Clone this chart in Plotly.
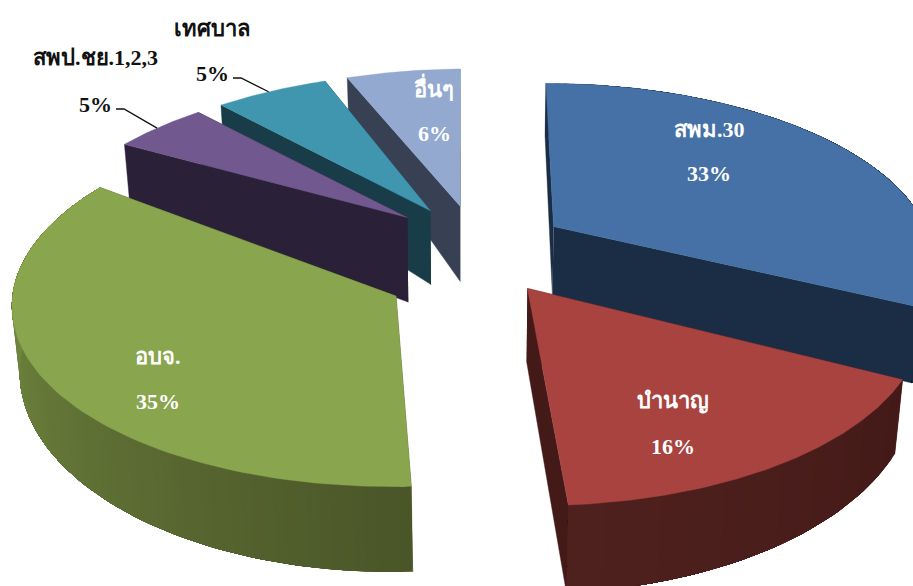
import numpy as np
import plotly.graph_objects as go

# data
categories = ["สพม.30", "บำนาญ", "อบจ.", "สพป.ชย.1,2,3", "เทศบาล", "อื่นๆ"]
values = [33, 16, 35, 5, 5, 6]
pct_labels = ["33%", "16%", "35%", "5%", "5%", "6%"]

# styling
top_colors = ["#4571a6", "#a84340", "#89a54e", "#71588f", "#4196af", "#93a9cf"]
cut_colors = ["#1a2d45", "#431a18", "#4a5528", "#2a2138", "#183c48", "#384153"]
rim_from = ["#1a2d45", "#431a18", "#4a5528", "#2a2138", "#183c48", "#384153"]
rim_to = ["#1a2d45", "#4f211e", "#7f9a48", "#2a2138", "#183c48", "#384153"]
draw_order = [5, 4, 3, 2, 0, 1]

# projection settings
CX, CY = 480.0, 255.0
R = 380.0
EXPLODE = 88.0
TILT = 0.464
PERSP = 0.00035
DEPTH = 62.0
CONV = 0.00025
ROT = 0.0
W, H = 913, 586
# small per-slice corrections for the perspective of the original, pixels and degrees
tip_dx = [-1, -1, -7, -8, -6, -4]
tip_dy = [-8, -2, 20, -11, -10, -10]
tip_extra_depth = [10, 8, 0, 25, 15, 17]
start_trim = [0, -2, 1, -0.3, -1, 0.5]
end_trim = [-5, -0.5, -1, -1.5, 1, -1]
rim_depth = [70, 62, 62, 70, 62, 62]


def project(X, Y, down=0.0):
    X, Y = np.asarray(X, float), np.asarray(Y, float)
    s = 1.0 / (1.0 - PERSP * Y)
    sx = CX + X * s
    sy = CY + Y * TILT * s
    d = down * s * s
    return sx + (CX - sx) * CONV * d, sy + d


def hex_mix(a, b, t):
    ca = [int(a[i:i + 2], 16) for i in (1, 3, 5)]
    cb = [int(b[i:i + 2], 16) for i in (1, 3, 5)]
    return "#" + "".join(f"{round(p + (q - p) * t):02x}" for p, q in zip(ca, cb))


fig = go.Figure()


def poly(xs, ys, color, lw=0.0):
    fig.add_trace(go.Scatter(
        x=[float(v) for v in xs], y=[float(v) for v in ys], mode="lines", fill="toself",
        fillcolor=color, line=dict(color=color, width=lw), hoverinfo="skip", showlegend=False))


total = sum(values)
edges = np.concatenate([[0], np.cumsum(values)]) / total * 360.0 + ROT
geom = []
for i in range(len(values)):
    a0, a1 = edges[i], edges[i + 1]
    mid = np.radians((a0 + a1) / 2)
    ox, oy = EXPLODE * np.sin(mid), -EXPLODE * np.cos(mid)
    geom.append((a0 + start_trim[i], a1 + end_trim[i], ox, oy))


def rim(i, angs):
    a0, a1, ox, oy = geom[i]
    t = np.radians(angs)
    return ox + R * np.sin(t), oy - R * np.cos(t)


for i in draw_order:
    a0, a1, ox, oy = geom[i]
    tx, ty = project(ox, oy, 0)
    tx, ty = float(tx) + tip_dx[i], float(ty) + tip_dy[i]
    bx, by = project(ox, oy, DEPTH)
    bx, by = float(bx) + tip_dx[i], float(by) + tip_dy[i] + tip_extra_depth[i]
    # cut faces
    for a in (a0, a1):
        rx, ry = rim(i, np.array([a]))
        x0, y0 = project(rx, ry, 0)
        x1, y1 = project(rx, ry, rim_depth[i])
        poly([tx, x0[0], x1[0], bx], [ty, y0[0], y1[0], by], cut_colors[i], 0.4)
    # outer wall: each strip reaches the end of the wall and covers the previous one
    n = max(2, int((a1 - a0) / 1.5))
    steps = np.linspace(a0, a1, n + 1)
    for k in range(n):
        if values[i] < 20 and not (90 < ((steps[k]) % 360) < 270):
            continue
        sub = np.linspace(steps[k], a1, max(4, (n - k) + 1))
        rx, ry = rim(i, sub)
        xt, yt = project(rx, ry, 0)
        xb, yb = project(rx, ry, rim_depth[i])
        f = (k + 0.5) / n
        poly(list(xt) + list(xb[::-1]), list(yt) + list(yb[::-1]),
             hex_mix(rim_from[i], rim_to[i], f))
    # top face
    angs = np.linspace(a0, a1, 90)
    rx, ry = rim(i, angs)
    xt, yt = project(rx, ry, 0)
    poly([tx] + list(xt) + [tx], [ty] + list(yt) + [ty], top_colors[i], 0.4)

# label placement, in pixels of the picture
inner_pos = {0: (709, 129, 173), 1: (673, 401, 446), 2: (158, 356, 401), 5: (434, 87, 133)}
outer_pos = {3: (95, 57, 104), 4: (212, 28, 73)}
FONT = "Liberation Serif, Noto Sans, serif"


def text(x, y, s, color):
    fig.add_annotation(x=x, y=y, text=f"<b>{s}</b>", showarrow=False, xref="x", yref="y",
                       font=dict(family=FONT, size=22, color=color))


for i, (x, y1, y2) in inner_pos.items():
    text(x, y1, categories[i], "white")
    text(x, y2, pct_labels[i], "white")
for i, (x, y1, y2) in outer_pos.items():
    text(x, y1, categories[i], "#111111")
    text(x, y2, pct_labels[i], "#111111")
    a0, a1, ox, oy = geom[i]
    rx, ry = rim(i, np.array([(a0 + a1) / 2 - 0.5]))
    ex, ey = project(rx, ry, 0)
    fig.add_trace(go.Scatter(
        x=[x + 21, x + 29, float(ex[0])], y=[y2 + 5, y2 + 5, float(ey[0])], mode="lines",
        line=dict(color="#111111", width=1.3), hoverinfo="skip", showlegend=False))

fig.update_layout(
    width=W, height=H, margin=dict(l=0, r=0, t=0, b=0),
    paper_bgcolor="white", plot_bgcolor="white",
    xaxis=dict(range=[0, W], visible=False, fixedrange=True),
    yaxis=dict(range=[H, 0], visible=False, fixedrange=True),
)
fig.write_html("out.html", config={"displayModeBar": False},
               post_script="document.body.style.margin='0';")
